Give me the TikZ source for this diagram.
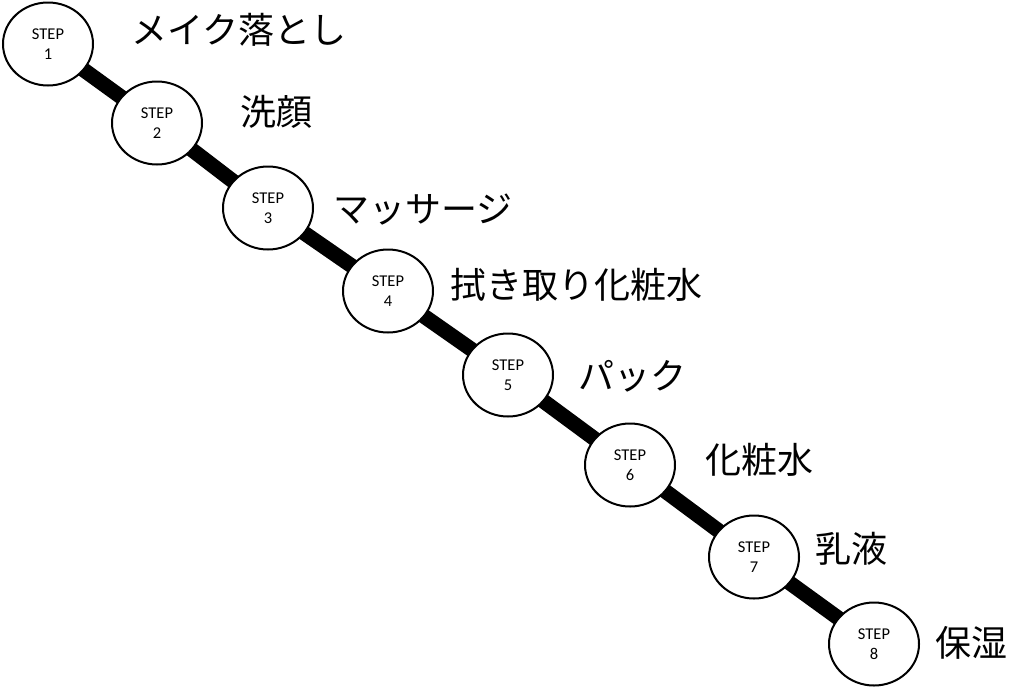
\documentclass[tikz,border=0pt]{standalone}
\usepackage{fontspec}
\setmainfont{Carlito}
\newfontfamily\jp{Noto Sans CJK JP}
\usetikzlibrary{backgrounds,shapes.geometric}
\begin{document}
\begin{tikzpicture}[x=1pt,y=-1pt,
  stepnode/.style={draw=black,line width=2pt,fill=white,ellipse,minimum width=90pt,minimum height=83pt,inner sep=0pt,align=center,font=\fontsize{16.5}{20}\selectfont},
  jplabel/.style={anchor=west,inner sep=0pt,font=\jp\fontsize{36}{40}\selectfont},
  conn/.style={line width=15pt,black}]
\useasboundingbox (0,0) rectangle (1035,691);
\node[stepnode] (s1) at (48,44) {STEP\\1};
\node[stepnode] (s2) at (157,123) {STEP\\2};
\node[stepnode] (s3) at (268,208) {STEP\\3};
\node[stepnode] (s4) at (388,291) {STEP\\4};
\node[stepnode] (s5) at (508,375) {STEP\\5};
\node[stepnode] (s6) at (630,465) {STEP\\6};
\node[stepnode] (s7) at (754,557) {STEP\\7};
\node[stepnode] (s8) at (874,644) {STEP\\8};
\begin{scope}[on background layer]
\draw[conn] (s1.center) -- (s2.center) -- (s3.center) -- (s4.center) -- (s5.center) -- (s6.center) -- (s7.center) -- (s8.center);
\end{scope}
\node[jplabel] (l1) at (131,30) {メイク落とし};
\node[jplabel] (l2) at (240,112) {洗顔};
\node[jplabel] (l3) at (333,210) {マッサージ};
\node[jplabel] (l4) at (450,285) {拭き取り化粧水};
\node[jplabel] (l5) at (578,376) {パック};
\node[jplabel] (l6) at (705,460) {化粧水};
\node[jplabel] (l7) at (815,549) {乳液};
\node[jplabel] (l8) at (935,643) {保湿};
\end{tikzpicture}
\end{document}
